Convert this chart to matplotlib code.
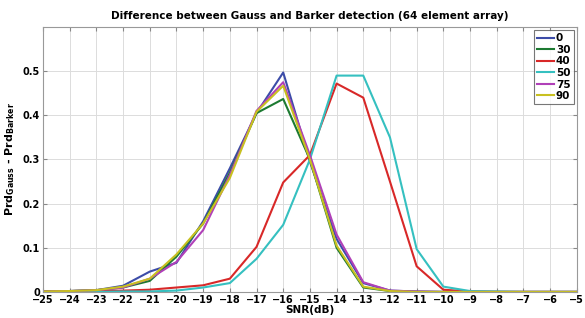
import matplotlib
matplotlib.use("Agg")
import matplotlib.pyplot as plt
import numpy as np

snr = list(range(-25, -4))
labels = ["0", "30", "40", "50", "75", "90"]
s0  = [0.001, 0.002, 0.004, 0.014, 0.046, 0.066, 0.160, 0.280, 0.405, 0.497, 0.295, 0.120, 0.020, 0.003, 0.001, 0, 0, 0, 0, 0, 0]
s30 = [0.001, 0.002, 0.004, 0.010, 0.025, 0.080, 0.155, 0.270, 0.405, 0.437, 0.300, 0.100, 0.010, 0.002, 0.000, 0, 0, 0, 0, 0, 0]
s40 = [0.000, 0.001, 0.002, 0.003, 0.005, 0.010, 0.015, 0.030, 0.102, 0.248, 0.310, 0.472, 0.440, 0.250, 0.058, 0.005, 0.001, 0, 0, 0, 0]
s50 = [0.000, 0.000, 0.000, 0.001, 0.001, 0.003, 0.010, 0.020, 0.075, 0.152, 0.300, 0.490, 0.490, 0.350, 0.097, 0.012, 0.002, 0.001, 0, 0, 0]
s75 = [0.001, 0.002, 0.004, 0.010, 0.030, 0.068, 0.140, 0.265, 0.410, 0.475, 0.310, 0.130, 0.022, 0.003, 0.001, 0, 0, 0, 0, 0, 0]
s90 = [0.001, 0.002, 0.004, 0.012, 0.030, 0.085, 0.155, 0.258, 0.408, 0.467, 0.300, 0.105, 0.012, 0.002, 0.000, 0, 0, 0, 0, 0, 0]
series = [s0, s30, s40, s50, s75, s90]
colors = ["#3c4ca8", "#1d7a32", "#d82828", "#35c0c0", "#b040b8", "#c8c020"]

fig = plt.figure(figsize=(5.85, 3.18), dpi=100)
ax = fig.add_axes([0.0735, 0.082, 0.9125, 0.833])
for ys, c, lab in zip(series, colors, labels):
    ax.plot(snr, ys, color=c, lw=1.5, label=lab)

ax.set_xlim(-25, -5)
ax.set_ylim(0, 0.6)
ax.set_xticks(snr)
ax.set_yticks([0, 0.1, 0.2, 0.3, 0.4, 0.5])
ax.set_yticklabels(["0", "0.1", "0.2", "0.3", "0.4", "0.5"])
ax.grid(True, color="#dcdcdc", lw=0.7)
ax.tick_params(direction="in", top=True, right=True, length=3, labelsize=7, pad=2, color="#888888")
for lbl in ax.get_xticklabels() + ax.get_yticklabels():
    lbl.set_fontweight("bold")
for sp in ax.spines.values():
    sp.set_color("#999999")
    sp.set_linewidth(0.8)
ax.set_title("Difference between Gauss and Barker detection (64 element array)",
             fontsize=7.5, fontweight="bold", pad=6)
ax.set_xlabel("SNR(dB)", fontsize=7.5, fontweight="bold", labelpad=0)
ax.set_ylabel(r"$\mathbf{Prd_{Gauss}}$ - $\mathbf{Prd_{Barker}}$", fontsize=8, fontweight="bold", labelpad=4)
leg = ax.legend(loc="upper right", fontsize=7, handlelength=1.6, handletextpad=0.2,
                labelspacing=0.15, borderpad=0.3, borderaxespad=0.3, fancybox=False,
                prop={"weight": "bold", "size": 7.5})
leg.get_frame().set_edgecolor("#555555")
leg.get_frame().set_linewidth(0.8)
fig.savefig("out.png", dpi=100)
